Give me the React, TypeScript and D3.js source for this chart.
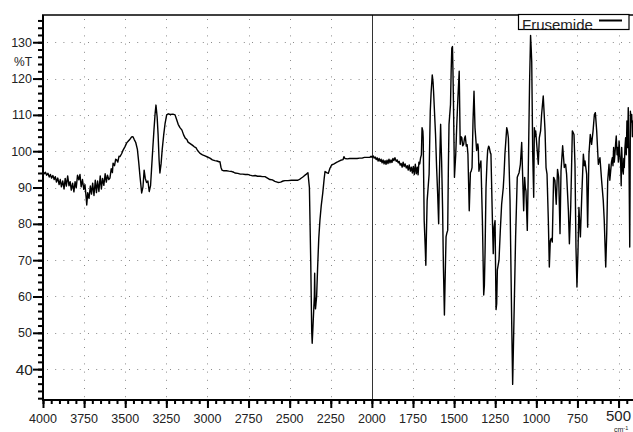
import { useEffect, useRef } from "react";
import * as d3 from "d3";

const seriesName = "Frusemide";

// wavenumber (cm-1), high to low
const wavenumber = [
  4000, 3992, 3985, 3978, 3970, 3962, 3955, 3948, 3940, 3932, 3925, 3918, 3910, 3902, 3895, 3888,
  3880, 3872, 3865, 3858, 3850, 3842, 3835, 3828, 3820, 3812, 3805, 3798, 3790, 3782, 3775, 3768,
  3760, 3752, 3745, 3738, 3734, 3728, 3720, 3712, 3705, 3698, 3690, 3682, 3675, 3668, 3660, 3652,
  3645, 3638, 3630, 3622, 3615, 3608, 3600, 3593, 3585, 3578, 3574, 3565, 3558, 3552, 3545, 3538,
  3532, 3522, 3513, 3502, 3491, 3481, 3471, 3462, 3453, 3445, 3436, 3426, 3418, 3410, 3400, 3392,
  3385, 3378, 3370, 3362, 3354, 3346, 3340, 3332, 3325, 3318, 3313, 3306, 3300, 3294, 3289, 3282,
  3275, 3266, 3258, 3248, 3238, 3226, 3210, 3197, 3188, 3178, 3167, 3155, 3145, 3135, 3125, 3118,
  3105, 3090, 3080, 3070, 3060, 3045, 3030, 3015, 3000, 2985, 2970, 2955, 2942, 2930, 2924, 2918,
  2912, 2900, 2885, 2870, 2851, 2840, 2833, 2815, 2800, 2785, 2770, 2755, 2741, 2725, 2710, 2695,
  2680, 2665, 2650, 2635, 2620, 2605, 2590, 2571, 2555, 2540, 2529, 2510, 2490, 2470, 2450, 2435,
  2420, 2407, 2398, 2389, 2380, 2372, 2366, 2363, 2358, 2353, 2350, 2348, 2346, 2343, 2340, 2336,
  2330, 2323, 2316, 2308, 2299, 2290, 2285, 2275, 2265, 2255, 2245, 2230, 2215, 2206, 2190, 2175,
  2170, 2164, 2150, 2135, 2120, 2105, 2090, 2075, 2060, 2045, 2030, 2012, 2005, 1998, 1992, 1986,
  1980, 1974, 1968, 1962, 1956, 1950, 1944, 1938, 1932, 1926, 1920, 1914, 1908, 1902, 1896, 1890,
  1884, 1878, 1872, 1866, 1860, 1852, 1846, 1840, 1834, 1828, 1822, 1816, 1810, 1804, 1798, 1791,
  1785, 1779, 1773, 1766, 1760, 1754, 1748, 1742, 1736, 1730, 1724, 1719, 1714, 1709, 1704, 1699,
  1695, 1690, 1688, 1682, 1676, 1672, 1668, 1664, 1658, 1652, 1645, 1640, 1633, 1628, 1625, 1613,
  1606, 1600, 1594, 1590, 1586, 1582, 1579, 1576, 1570, 1565, 1559, 1554, 1549, 1544, 1539, 1535,
  1531, 1522, 1518, 1514, 1510, 1507, 1504, 1500, 1498, 1494, 1490, 1484, 1477, 1469, 1466, 1463,
  1458, 1453, 1448, 1442, 1437, 1432, 1426, 1421, 1416, 1408, 1401, 1396, 1391, 1385, 1379, 1373,
  1363, 1356, 1353, 1349, 1343, 1337, 1328, 1320, 1316, 1312, 1306, 1300, 1296, 1290, 1286, 1280,
  1276, 1268, 1262, 1257, 1251, 1245, 1241, 1237, 1227, 1219, 1211, 1201, 1196, 1191, 1180, 1175,
  1170, 1160, 1150, 1144, 1136, 1126, 1116, 1110, 1105, 1097, 1089, 1083, 1077, 1071, 1067, 1063,
  1055, 1049, 1041, 1035, 1031, 1028, 1022, 1016, 1012, 1008, 1004, 996, 988, 982, 974, 968,
  958, 952, 947, 941, 935, 927, 921, 915, 909, 903, 895, 887, 879, 871, 864, 856,
  850, 840, 830, 822, 816, 805, 799, 791, 786, 781, 771, 765, 759, 753, 747, 741,
  732, 724, 714, 708, 704, 694, 688, 680, 672, 664, 655, 647, 641, 633, 623, 613,
  603, 593, 587, 578, 572, 566, 558, 553, 548, 543, 538, 534, 530, 526, 522, 518,
  514, 509, 505, 501, 497, 492, 487, 484, 481, 476, 471, 468, 465, 461, 457, 453,
  449, 445, 441, 436, 432, 430, 428, 424, 420, 416, 412, 406, 400,
];

// %T at each wavenumber above
const transmittance = [
  94.4, 93.8, 94.2, 93.4, 93.9, 92.9, 93.6, 92.6, 93.3, 92.2, 93, 91.5, 92.6, 90.8, 92.2, 90.2,
  91.8, 89.6, 92.5, 90.4, 93.2, 90.5, 91.6, 89.3, 91.2, 88.8, 91.6, 89.9, 93.4, 92.1, 93.6, 90.2,
  92.2, 89.5, 90.8, 87.5, 85.2, 88.6, 87, 90.4, 88.2, 91.2, 87.8, 92, 88.6, 91.8, 88.9, 93.2,
  89.6, 92.5, 90.6, 93.8, 91.5, 93.4, 92.2, 92.6, 95.2, 94.1, 96.7, 96, 97.8, 97.6, 97, 98.6,
  98.5, 99.3, 100.3, 101.2, 102.3, 102.8, 103.3, 103.9, 104, 103.2, 102.4, 100.5, 97, 93, 88.5, 90.2,
  94.8, 92.5, 91.4, 91.8, 88.9, 90.5, 95, 101, 106, 110.5, 112.7, 109.5, 104.5, 97.5, 94, 96.5,
  100.5, 104.5, 107.5, 110, 110.3, 110.1, 110.2, 110, 108.8, 107.4, 106.5, 105.8, 104.5, 103.6, 103.2, 102.5,
  102.1, 101.6, 101.2, 101, 100.2, 99.4, 99, 98.7, 98.4, 98.1, 97.6, 97.4, 97.3, 97.1, 97.1, 95.6,
  94.8, 94.6, 94.6, 94.5, 94.4, 94.2, 94, 93.9, 93.7, 93.7, 93.6, 93.6, 93.4, 93.2, 93.3, 93.1,
  93.1, 93, 93, 92.6, 92.2, 92.1, 91.7, 91.4, 91.5, 91.8, 91.9, 91.9, 92, 92, 92, 92.4,
  92.9, 93.4, 93.7, 94.1, 90, 70, 50.5, 47.1, 52, 57, 60, 66.4, 60, 56.6, 58, 60,
  68, 76, 81, 85, 88.4, 92.5, 94.4, 94.1, 93.9, 95.3, 96.2, 96.5, 96.9, 97.1, 97.5, 97.7,
  98.5, 98, 97.9, 98, 98, 98, 98, 98.1, 98.1, 98.3, 98.3, 98.3, 98.6, 98.3, 98.7, 98.1,
  98.4, 97.7, 98.2, 97.3, 98, 97.2, 97.8, 96.8, 97.6, 96.5, 97.4, 96.4, 97.5, 96.6, 97.8, 96.8,
  97.6, 96.9, 98, 97.4, 98.2, 97.2, 97.6, 96.8, 97.2, 96.2, 96.6, 95.6, 97, 95.8, 96.5, 95.4,
  96, 94.8, 96.2, 94.5, 95.6, 94, 95.8, 93.6, 96.4, 93.8, 95.6, 93.5, 97, 96.5, 98.2, 99,
  106.5, 105.5, 103.7, 80.9, 74, 68.6, 78, 86.4, 90, 93.7, 111, 116, 121, 119, 116.5, 104.6,
  95, 88.2, 80, 92, 100, 107.4, 102, 97.3, 84, 68.1, 54.9, 66, 76.4, 77.5, 78.2, 95,
  107.4, 112.8, 122, 128.4, 128.8, 122, 113.7, 100, 92.8, 96, 99.2, 107, 114.6, 122, 112, 101.9,
  104, 103.7, 101.5, 101.9, 103.5, 104.2, 101.4, 101.8, 99.2, 83.6, 94.1, 94.5, 95.5, 108.3, 116.5, 106.5,
  100.2, 102, 101, 94.5, 96, 97.3, 80.9, 60.4, 63, 71.8, 90, 97, 100.2, 101.4, 101, 99.6,
  99.2, 82.7, 71.8, 79.1, 80.9, 56.4, 58, 67.3, 70, 78.2, 85.4, 90, 94, 99.2, 106.5, 105.5,
  103.7, 86.4, 53.6, 35.8, 53.6, 76.4, 92.8, 93.5, 94.1, 96.4, 102.4, 92.8, 83.6, 92.8, 90, 89.1,
  78.2, 94.5, 119.1, 131.9, 128, 124.6, 99.2, 87.3, 106.5, 104, 105.6, 101, 96.4, 103.7, 105.6, 110.1,
  115.2, 110, 105.6, 95.5, 93.7, 80.9, 68.1, 75.4, 76, 75, 92.8, 91.9, 85.4, 95, 92.8, 77.3,
  94.5, 101.5, 95.5, 96.4, 93.7, 83.6, 74.5, 84.5, 95, 105.6, 104.6, 96.4, 73.6, 62.6, 71.8, 84.5,
  76.4, 87.3, 99.2, 96, 97.3, 93.7, 79.1, 99.2, 104.6, 101.9, 105.6, 110.1, 110.6, 105.6, 96.4, 98.2,
  91.9, 86.4, 80.9, 68.1, 77.3, 91.9, 96.4, 92, 94.5, 97, 98.2, 96, 101, 97, 99.2, 102,
  104.2, 99, 101, 97, 102.8, 99, 96.4, 90.5, 101, 95, 93.7, 98, 95.5, 101, 103.7, 99,
  108.3, 101, 112, 95, 73.6, 90, 111, 108, 110.1, 104, 108.3, 103, 106,
];

const xMajorTicks = [4000, 3750, 3500, 3250, 3000, 2750, 2500, 2250, 2000, 1750, 1500, 1250, 1000, 750, 500];
const yMajorTicks = [40, 50, 60, 70, 80, 90, 100, 110, 120, 130];
const yLabel = "%T";
const xUnit = "cm";

const FONT = "'Liberation Sans', Arial, Helvetica, sans-serif";

const App = () => {
  const svgRef = useRef<SVGSVGElement>(null);

  useEffect(() => {
    document.body.style.margin = "0";

    const W = 633;
    const H = 432;
    const left = 43;
    const right = 635;
    const top = 15;
    const bottom = 400;

    const x = d3.scaleLinear().domain([4000, 400]).range([left, right]);
    const y = d3.scaleLinear().domain([31.5, 137.5]).range([bottom, top]);

    const svg = d3.select(svgRef.current).attr("width", W).attr("height", H);
    svg.selectAll("*").remove();

    svg.append("rect").attr("width", W).attr("height", H).attr("fill", "#fff");

    // dotted grid
    const grid = svg.append("g").attr("stroke", "#8a8a8a").attr("stroke-width", 1).attr("stroke-dasharray", "1 7.2");
    grid
      .selectAll("line.h")
      .data(yMajorTicks)
      .join("line")
      .attr("class", "h")
      .attr("x1", left + 4)
      .attr("x2", right)
      .attr("y1", (d) => Math.round(y(d)) + 0.5)
      .attr("y2", (d) => Math.round(y(d)) + 0.5);
    grid
      .selectAll("line.v")
      .data(xMajorTicks.filter((d) => d !== 4000 && d !== 2000))
      .join("line")
      .attr("class", "v")
      .attr("x1", (d) => Math.round(x(d)) + 0.5)
      .attr("x2", (d) => Math.round(x(d)) + 0.5)
      .attr("y1", top + 4)
      .attr("y2", bottom);

    // solid marker at 2000
    svg
      .append("line")
      .attr("x1", Math.round(x(2000)) + 0.5)
      .attr("x2", Math.round(x(2000)) + 0.5)
      .attr("y1", top)
      .attr("y2", bottom)
      .attr("stroke", "#333")
      .attr("stroke-width", 1);

    // spectrum
    svg
      .append("clipPath")
      .attr("id", "plotClip")
      .append("rect")
      .attr("x", left)
      .attr("y", top)
      .attr("width", right - left)
      .attr("height", bottom - top);

    const pts: [number, number][] = wavenumber.map((w, i) => [w, transmittance[i]]);
    const line = d3
      .line<[number, number]>()
      .x((d) => x(d[0]))
      .y((d) => y(d[1]));

    svg
      .append("path")
      .attr("clip-path", "url(#plotClip)")
      .attr("d", line(pts))
      .attr("fill", "none")
      .attr("stroke", "#000")
      .attr("stroke-width", 1.4)
      .attr("stroke-linejoin", "round");

    // x axis ticks
    const xMinor = d3.range(4000, 399, -50);
    const xAxisMinor = d3.axisBottom(x).tickValues(xMinor).tickSize(4).tickFormat(() => "");
    const xAxisMajor = d3.axisBottom(x).tickValues(xMajorTicks).tickSize(8).tickFormat(() => "");
    const gxm = svg.append("g").attr("transform", `translate(0,${bottom})`).call(xAxisMinor);
    const gxM = svg.append("g").attr("transform", `translate(0,${bottom})`).call(xAxisMajor);
    [gxm, gxM].forEach((g) => {
      g.select(".domain").remove();
      g.selectAll("line").attr("stroke", "#000").attr("stroke-width", 2);
    });

    // y axis ticks
    const yMinor = d3.range(32, 137, 2);
    const yAxisMinor = d3.axisLeft(y).tickValues(yMinor).tickSize(5).tickFormat(() => "");
    const yAxisMajor = d3.axisLeft(y).tickValues(yMajorTicks).tickSize(10).tickFormat(() => "");
    const gym = svg.append("g").attr("transform", `translate(${left},0)`).call(yAxisMinor);
    const gyM = svg.append("g").attr("transform", `translate(${left},0)`).call(yAxisMajor);
    [gym, gyM].forEach((g) => {
      g.select(".domain").remove();
      g.selectAll("line").attr("stroke", "#000").attr("stroke-width", 2);
    });

    // frame lines
    svg
      .append("line")
      .attr("x1", left)
      .attr("x2", left)
      .attr("y1", top)
      .attr("y2", bottom + 1)
      .attr("stroke", "#000")
      .attr("stroke-width", 2);
    svg
      .append("line")
      .attr("x1", left - 1)
      .attr("x2", W)
      .attr("y1", bottom)
      .attr("y2", bottom)
      .attr("stroke", "#000")
      .attr("stroke-width", 2);
    svg
      .append("line")
      .attr("x1", left - 1)
      .attr("x2", W)
      .attr("y1", top)
      .attr("y2", top)
      .attr("stroke", "#000")
      .attr("stroke-width", 1.5);

    // tick labels
    svg
      .append("g")
      .selectAll("text")
      .data(xMajorTicks)
      .join("text")
      .attr("x", (d) => x(d))
      .attr("y", (d) => (d === 500 ? 421 : 422.5))
      .attr("text-anchor", "middle")
      .attr("font-family", FONT)
      .attr("font-size", (d) => (d === 500 ? 15 : 12.5))
      .attr("fill", "#222")
      .text((d) => d);

    svg
      .append("g")
      .selectAll("text")
      .data(yMajorTicks)
      .join("text")
      .attr("x", (d) => (d === 40 ? 33 : 32))
      .attr("y", (d) => y(d) + (d === 40 ? 5.5 : 4.5))
      .attr("text-anchor", "end")
      .attr("font-family", FONT)
      .attr("font-size", (d) => (d === 40 ? 15.5 : 12.5))
      .attr("fill", "#222")
      .text((d) => d);

    svg
      .append("text")
      .attr("x", 32)
      .attr("y", 66)
      .attr("text-anchor", "end")
      .attr("font-family", FONT)
      .attr("font-size", 12)
      .attr("fill", "#222")
      .text(yLabel);

    // unit label, kept inside the page
    const unit = svg
      .append("text")
      .attr("x", 614)
      .attr("y", 431.5)
      .attr("font-family", FONT)
      .attr("font-size", 7)
      .attr("fill", "#222");
    unit.append("tspan").text(xUnit);
    unit.append("tspan").attr("dy", -1.5).attr("font-size", 5.5).text("-1");

    // legend
    const lg = svg.append("g");
    lg.append("rect")
      .attr("x", 518.5)
      .attr("y", 14.5)
      .attr("width", 110.5)
      .attr("height", 15)
      .attr("fill", "#fff")
      .attr("stroke", "#000")
      .attr("stroke-width", 1.2);
    lg.append("text")
      .attr("x", 522)
      .attr("y", 30)
      .attr("font-family", FONT)
      .attr("font-size", 15)
      .attr("fill", "#222")
      .text(seriesName);
    lg.append("line")
      .attr("x1", 599)
      .attr("x2", 622)
      .attr("y1", 20.5)
      .attr("y2", 20.5)
      .attr("stroke", "#000")
      .attr("stroke-width", 2);
  }, []);

  return <svg ref={svgRef} style={{ display: "block" }} />;
};

export default App;
